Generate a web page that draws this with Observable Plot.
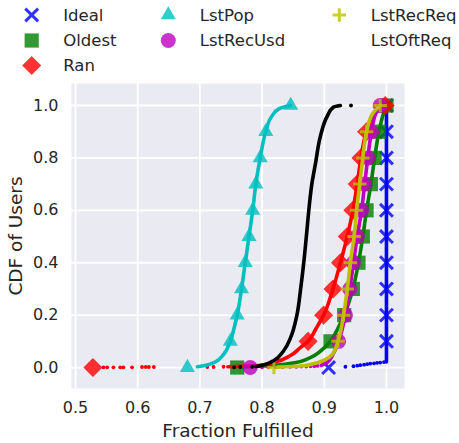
<!DOCTYPE html>
<html><head><meta charset="utf-8">
<script src="https://cdn.jsdelivr.net/npm/d3@7"></script>
<script src="https://cdn.jsdelivr.net/npm/@observablehq/plot@0.6"></script>
<style>
body{margin:0;background:#fff;font-family:"DejaVu Sans",sans-serif;}
svg{display:block}
</style></head><body>
<div id="chart"></div>
<script>
// ---- data ----
const seriesNames = ["Ideal","Oldest","Ran","LstPop","LstRecUsd","LstRecReq","LstOftReq"];
const seriesColors = ["#0000ff","#008000","#ff0000","#00bfbf","#bf00bf","#bfbf00","#000000"];
const markerSymbols = ["times","square","diamond2","triangle","circle","plus",null];
const xTicks = [0.5,0.6,0.7,0.8,0.9,1.0];
const yTicks = [0,0.2,0.4,0.6,0.8,1.0];
const cdfLevels = [0,0.1,0.2,0.3,0.4,0.5,0.6,0.7,0.8,0.9,1.0];

// big markers (x at each CDF level)
const idealMarks  = [0.907,1,1,1,1,1,1,1,1,1,1];
const oldestMarks = [0.760,0.910,0.932,0.946,0.955,0.962,0.968,0.975,0.981,0.988,1.0];
const ranMarks    = [0.528,0.874,0.899,0.914,0.926,0.937,0.946,0.953,0.959,0.968,0.998];
const lstPopMarks = [0.680,0.749,0.760,0.767,0.773,0.779,0.785,0.790,0.797,0.806,0.846];
const lstRecUsdMarks = [0.781,0.923,0.934,0.941,0.947,0.953,0.960,0.965,0.970,0.976,0.990];
const lstRecReqMarks = [0.819,0.922,0.931,0.937,0.942,0.948,0.952,0.957,0.962,0.968,0.990];
const lstOftReqMarks = [];

// dense parts of each CDF [x, y]
const idealLine = [[1.0,0.021],[1.0,1.0]];
const oldestLine = [[0.765,0.002],[0.79,0.004],[0.82,0.009],[0.85,0.017],[0.875,0.035],[0.895,0.065],[0.910,0.1],[0.922,0.15],[0.932,0.2],[0.946,0.3],[0.955,0.4],[0.962,0.5],[0.968,0.6],[0.975,0.7],[0.981,0.8],[0.988,0.9],[0.994,0.96],[1.0,1.0]];
const ranLine = [[0.745,0.003],[0.77,0.005],[0.795,0.008],[0.82,0.02],[0.845,0.045],[0.862,0.077],[0.874,0.1],[0.887,0.15],[0.899,0.2],[0.914,0.3],[0.926,0.4],[0.937,0.5],[0.946,0.6],[0.953,0.7],[0.959,0.8],[0.968,0.9],[0.982,0.97],[0.998,1.0]];
const lstPopLine = [[0.696,0.003],[0.712,0.01],[0.725,0.022],[0.738,0.05],[0.749,0.1],[0.755,0.15],[0.760,0.2],[0.767,0.3],[0.773,0.4],[0.779,0.5],[0.785,0.6],[0.790,0.7],[0.797,0.8],[0.806,0.9],[0.816,0.96],[0.827,0.987],[0.838,0.996],[0.846,1.0]];
const lstRecUsdLine = [[0.895,0.008],[0.905,0.02],[0.914,0.05],[0.923,0.1],[0.934,0.2],[0.941,0.3],[0.947,0.4],[0.953,0.5],[0.960,0.6],[0.965,0.7],[0.970,0.8],[0.976,0.9],[0.983,0.97],[0.990,1.0]];
const lstRecReqLine = [[0.825,0.002],[0.85,0.004],[0.87,0.008],[0.882,0.014],[0.899,0.027],[0.913,0.05],[0.922,0.1],[0.931,0.2],[0.937,0.3],[0.942,0.4],[0.948,0.5],[0.952,0.6],[0.957,0.7],[0.962,0.8],[0.968,0.9],[0.978,0.97],[0.990,1.0]];
const lstOftReqLine = [[0.79,0.004],[0.805,0.012],[0.819,0.027],[0.835,0.065],[0.846,0.115],[0.856,0.2],[0.862,0.3],[0.867,0.4],[0.872,0.52],[0.876,0.62],[0.880,0.7],[0.886,0.78],[0.894,0.885],[0.905,0.96],[0.915,0.994],[0.926,1.0]];

// sparse users (isolated points) [x, y]
const idealTail = [[0.934,0.003],[0.947,0.005],[0.953,0.007],[0.958,0.009],[0.964,0.011],[0.969,0.013],[0.974,0.015],[0.980,0.016],[0.985,0.018],[0.990,0.019],[0.996,0.021]];
const oldestTail = [];
const ranTail = [[0.545,0.001],[0.551,0.001],[0.561,0.001],[0.572,0.001],[0.577,0.001],[0.591,0.001],[0.607,0.002],[0.613,0.002],[0.618,0.002],[0.626,0.002],[0.712,0.002],[0.722,0.002],[0.738,0.003]];
const lstPopTail = [];
const lstRecUsdTail = [[0.800,0.001],[0.810,0.001],[0.822,0.002],[0.833,0.002],[0.845,0.003],[0.855,0.003],[0.863,0.004],[0.871,0.004],[0.878,0.005],[0.884,0.005],[0.889,0.006]];
const lstRecReqTail = [];
const lstOftReqTail = [[0.755,0.001],[0.765,0.002],[0.784,0.003],[0.943,1.0]];

const seriesLines = [idealLine, oldestLine, ranLine, lstPopLine, lstRecUsdLine, lstRecReqLine, lstOftReqLine];
const seriesTails = [idealTail, oldestTail, ranTail, lstPopTail, lstRecUsdTail, lstRecReqTail, lstOftReqTail];
const seriesMarks = [idealMarks, oldestMarks, ranMarks, lstPopMarks, lstRecUsdMarks, lstRecReqMarks, lstOftReqMarks];

// ---- styling ----
const symbolR = {times:5.9, square:8.0, diamond2:8.6, triangle:5.6, circle:7.5, plus:4.4};
const strokeSymbols = new Set(["times","plus"]);
const textColor = "#262626";
const fontFamily = "DejaVu Sans";

// ---- legend (SVG above the plot) ----
const legendH = 80;
const legendCols = [[0,1,2],[3,4],[5,6]];
const legendColX = [31.7, 168.3, 339.3];
const legendRowY = [15, 40.5, 65.5];
const d3Sym = {times:d3.symbolTimes, square:d3.symbolSquare, diamond2:d3.symbolDiamond2, triangle:d3.symbolTriangle, circle:d3.symbolCircle, plus:d3.symbolPlus};
const legend = d3.create("svg").attr("width", 459).attr("height", legendH)
  .attr("font-family", fontFamily).attr("font-size", 16.5);
legendCols.forEach((col, ci) => col.forEach((si, ri) => {
  const g = legend.append("g").attr("transform", `translate(${legendColX[ci]},${legendRowY[ri]})`);
  const s = markerSymbols[si];
  if (s) {
    const path = d3.symbol(d3Sym[s], Math.PI * symbolR[s] ** 2)();
    const p = g.append("path").attr("d", path);
    if (strokeSymbols.has(s)) p.attr("fill","none").attr("stroke", seriesColors[si]).attr("stroke-width",3).attr("stroke-opacity",0.8);
    else p.attr("fill", seriesColors[si]).attr("fill-opacity",0.8);
  }
  g.append("text").attr("x", 31.5).attr("dy","0.35em").attr("fill", textColor).text(seriesNames[si]);
}));
document.getElementById("chart").append(legend.node());

// ---- plot ----
const marks = [
  Plot.frame({fill:"#eaeaf2", stroke:null}),
  Plot.gridX(xTicks, {stroke:"white", strokeOpacity:1, strokeWidth:1.8}),
  Plot.gridY(yTicks, {stroke:"white", strokeOpacity:1, strokeWidth:1.8}),
  Plot.axisX(xTicks, {tickSize:0, tickPadding:13, tickFormat:d3.format(".1f"), fontSize:16, label:null}),
  Plot.axisX({ticks:[], tickSize:0, label:"Fraction Fulfilled", labelArrow:"none", labelAnchor:"center", labelOffset:48, fontSize:18.5}),
  Plot.axisY(yTicks, {tickSize:0, tickPadding:13, tickFormat:d3.format(".1f"), fontSize:16, label:null}),
  Plot.axisY({ticks:[], tickSize:0, label:"CDF of Users", labelArrow:"none", labelAnchor:"center", labelOffset:63, fontSize:18.5})
];
seriesNames.forEach((name, i) => {
  const c = seriesColors[i];
  marks.push(Plot.line(seriesLines[i], {x:d=>d[0], y:d=>d[1], stroke:c, strokeWidth:3.6, curve:"monotone-y"}));
  if (seriesTails[i].length) marks.push(Plot.dot(seriesTails[i], {x:d=>d[0], y:d=>d[1], r:1.9, fill:c, stroke:null}));
  const s = markerSymbols[i];
  if (s && seriesMarks[i].length) {
    const opts = {x:(d,j)=>seriesMarks[i][j], y:d=>d, symbol:s, r:symbolR[s]};
    if (strokeSymbols.has(s)) Object.assign(opts, {fill:"none", stroke:c, strokeWidth:3, strokeOpacity:0.8});
    else Object.assign(opts, {fill:c, fillOpacity:0.8, stroke:null});
    marks.push(Plot.dot(cdfLevels, opts));
  }
});

const plot = Plot.plot({
  width: 459, height: 363,
  marginTop: 3, marginBottom: 55, marginLeft: 71, marginRight: 55,
  x: {domain:[0.4936, 1.029]},
  y: {domain:[-0.08, 1.084]},
  style: {fontFamily: fontFamily, color: textColor, background: "white"},
  marks
});
document.getElementById("chart").append(plot);
</script>
</body></html>
